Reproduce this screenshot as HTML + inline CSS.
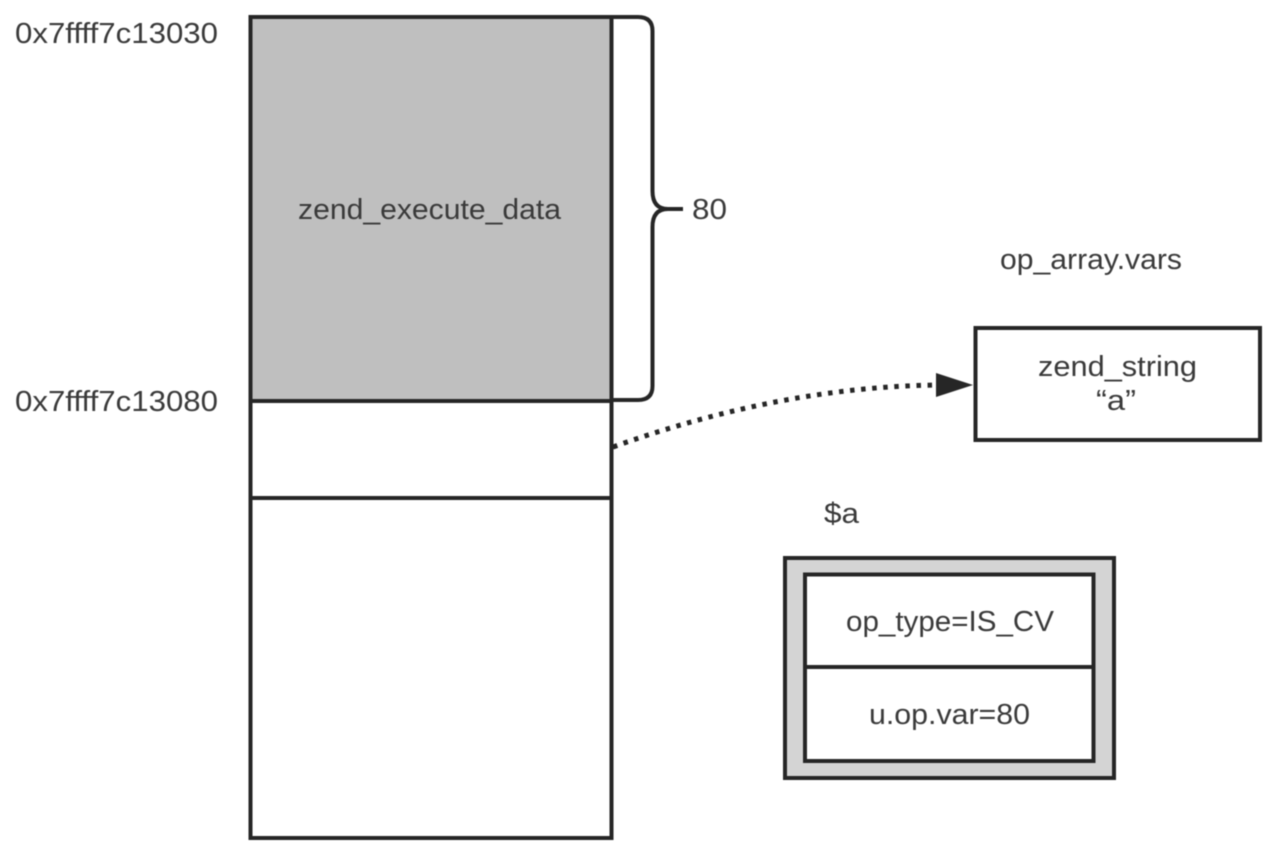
<!DOCTYPE html>
<html>
<head>
<meta charset="utf-8">
<style>
html,body{margin:0;padding:0;background:#fff;width:1280px;height:855px;overflow:hidden}
svg{display:block;position:absolute;left:0;top:0;filter:blur(0.6px)}
text{font-family:"Liberation Sans",sans-serif;fill:#3a3a3a;font-size:28.5px}
</style>
</head>
<body>
<svg width="1280" height="855" viewBox="0 0 1280 855" xmlns="http://www.w3.org/2000/svg">
<rect x="250" y="17" width="361" height="384" fill="#bfbfbf" stroke="none"/>
<rect x="250.5" y="17" width="361" height="821" fill="none" stroke="#262626" stroke-width="4"/>
<line x1="250" y1="401" x2="612" y2="401" stroke="#262626" stroke-width="4"/>
<line x1="250" y1="498" x2="612" y2="498" stroke="#262626" stroke-width="4"/>
<path d="M612 17 H638 Q652.5 17 652.5 31 V191 Q652.5 209 668 209 H683 M668 209 Q652.5 209 652.5 227 V386 Q652.5 400 638 400 H612" fill="none" stroke="#262626" stroke-width="4"/>
<path d="M613 447 Q780 387 938 385" fill="none" stroke="#262626" stroke-width="5" stroke-dasharray="4.5 6.6"/>
<polygon points="936,373 973,385 936,397" fill="#262626"/>
<rect x="975.5" y="328" width="284.5" height="112" fill="#fff" stroke="#262626" stroke-width="4"/>
<rect x="785" y="558" width="329" height="220" fill="#d4d4d4" stroke="#262626" stroke-width="4"/>
<rect x="805" y="574.5" width="288.5" height="186.5" fill="#fff" stroke="#262626" stroke-width="4"/>
<line x1="805" y1="667" x2="1093" y2="667" stroke="#262626" stroke-width="4"/>
<text x="15" y="43" textLength="203" lengthAdjust="spacingAndGlyphs">0x7ffff7c13030</text>
<text x="15" y="411" textLength="203" lengthAdjust="spacingAndGlyphs">0x7ffff7c13080</text>
<text x="298" y="219" textLength="263" lengthAdjust="spacingAndGlyphs">zend_execute_data</text>
<text x="692" y="219" textLength="35" lengthAdjust="spacingAndGlyphs">80</text>
<text x="1000" y="269" textLength="182" lengthAdjust="spacingAndGlyphs">op_array.vars</text>
<text x="1038" y="376" textLength="159" lengthAdjust="spacingAndGlyphs">zend_string</text>
<text x="1096" y="410" textLength="40" lengthAdjust="spacingAndGlyphs">“a”</text>
<text x="824" y="523" textLength="35" lengthAdjust="spacingAndGlyphs">$a</text>
<text x="846" y="631" textLength="208" lengthAdjust="spacingAndGlyphs">op_type=IS_CV</text>
<text x="869" y="724" textLength="161" lengthAdjust="spacingAndGlyphs">u.op.var=80</text>
</svg>
</body>
</html>
